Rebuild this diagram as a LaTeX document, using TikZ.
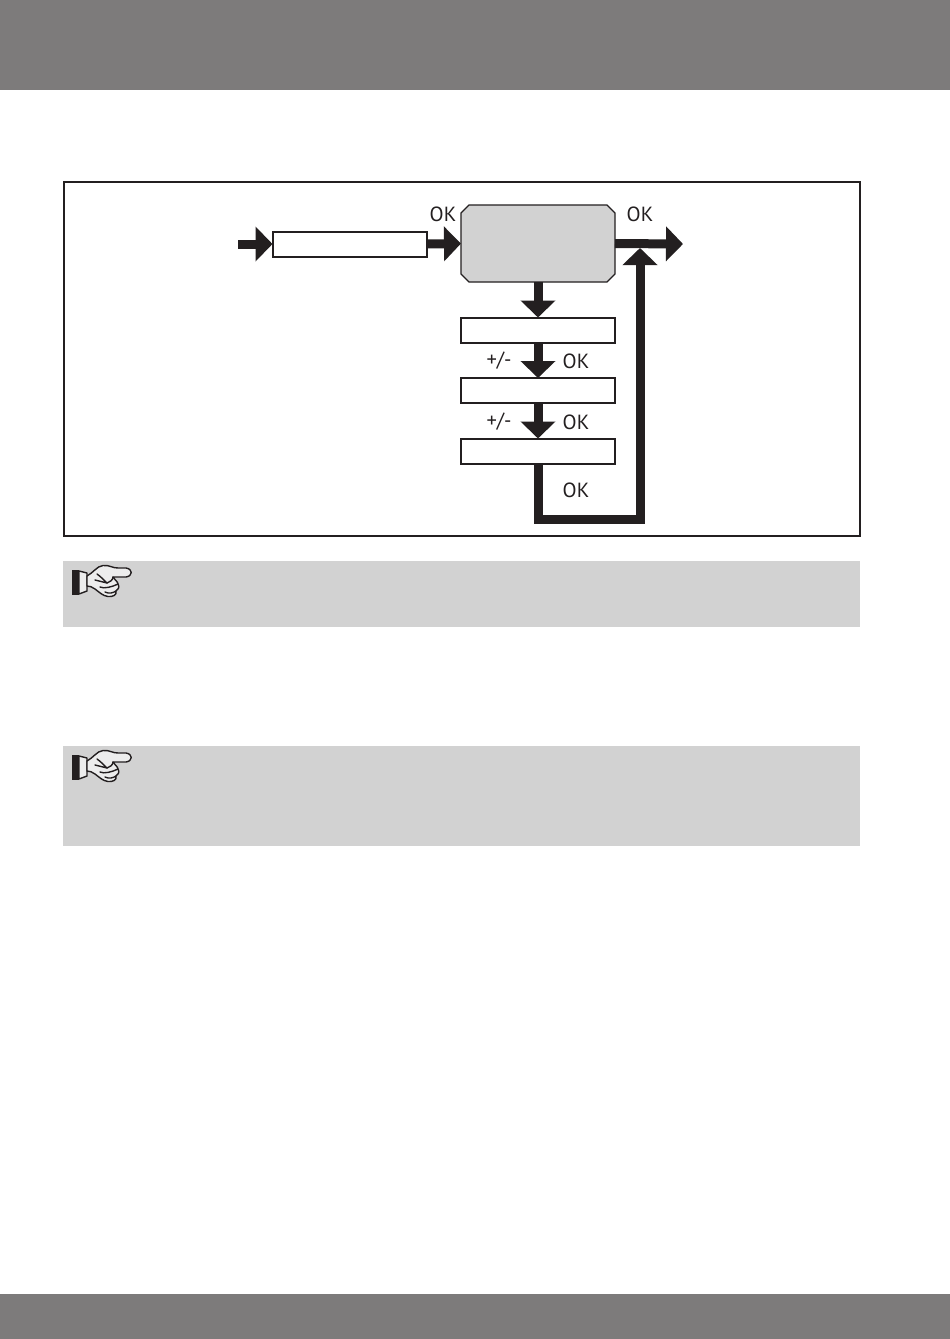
\documentclass[tikz,border=0pt]{standalone}
\usepackage{fontspec}
\setmainfont{PT Sans}
\usetikzlibrary{arrows.meta,calc}
\definecolor{band}{HTML}{7D7B7B}
\definecolor{panel}{HTML}{D2D2D2}
\definecolor{ink}{HTML}{231F20}
\tikzset{
  x=1pt,y=-1pt,
  band/.style={fill=band,draw=none},
  notebox/.style={fill=panel,draw=none},
  frame/.style={draw=ink,line width=2pt,fill=none},
  stepbox/.style={rectangle,draw=ink,fill=white,line width=2pt,minimum width=154pt,minimum height=25pt,inner sep=0pt,outer sep=0pt},
  mainbox/.style={rectangle,draw=none,minimum width=154pt,minimum height=77pt,inner sep=0pt,outer sep=0pt},
  mainshape/.style={draw=ink,fill=panel,line width=1.2pt,line join=miter},
  flow/.style={draw=ink,line width=9pt,line join=miter,-{Triangle[length=17pt,width=34pt]}},
  lbl/.style={inner sep=0pt,text=ink,font=\fontsize{20.5}{24}\selectfont},
  pics/pointer/.style={code={
    \begin{scope}[draw=ink,line width=1.4pt,line join=round,line cap=round,fill=none]
      \fill[ink] (72,570) rectangle (79,595);
      \draw[fill=panel!40!white] (79,571) -- (87,573) -- (87,591) -- (79,594) -- cycle;
      \draw[fill=panel!40!white] (87,576) .. controls (93,573) and (97,566) .. (103,565.5)
        .. controls (110,565) and (112,568) .. (118,568)
        -- (126,568) .. controls (133,569) and (133,576) .. (126,577)
        -- (113,577) .. controls (115,580) and (118,582) .. (118,584)
        .. controls (120,587) and (118,590) .. (116,591)
        .. controls (117,595) and (113,597) .. (108,596.5)
        .. controls (103,596) and (99,592) .. (95,589)
        .. controls (92,587) and (90,586) .. (87,586) -- cycle;
      \draw (97,574) .. controls (100,576) and (104,580) .. (107,583)
        .. controls (103,582) and (99,581) .. (95,580);
      \draw (107,583) .. controls (110,582) and (113,580) .. (113,577);
      \draw (100,587) .. controls (104,589) and (112,587) .. (118,584);
      \draw (105,592) .. controls (109,594) and (113,593) .. (116,591);
    \end{scope}
  }}
}
\begin{document}
\begin{tikzpicture}
\useasboundingbox (0,0) rectangle (950,1339);
\fill[white] (0,0) rectangle (950,1339);
\path[band] (0,0) rectangle (950,90);
\path[band] (0,1294) rectangle (950,1339);
\path[frame] (64,181.5) rectangle (860,536);
\path[notebox] (63,561) rectangle (860,627);
\path[notebox] (63,746) rectangle (860,846);
\pic at (0,0) {pointer};
\pic at (0,185) {pointer};

\node[mainbox] (main) at (538,243.5) {};
\draw[mainshape]
  ($(main.north west)+(8,0)$) -- ($(main.north east)+(-8,0)$)
  -- ($(main.north east)+(0,8)$) -- ($(main.south east)+(0,-8)$)
  -- ($(main.south east)+(-8,0)$) -- ($(main.south west)+(8,0)$)
  -- ($(main.south west)+(0,-8)$) -- ($(main.north west)+(0,8)$) -- cycle;
\node[stepbox] (a) at (349.5,244) {};
\node[stepbox] (b) at (538,330) {};
\node[stepbox] (c) at (538,390.5) {};
\node[stepbox] (d) at (538,451) {};

\coordinate (start) at (238,244);
\coordinate (end) at (683,244);
\coordinate (corner) at (640,519);
\coordinate (join) at (640,248);

\draw[flow] (start) -- (a.west);
\draw[flow] (a.east) -- (main.west);
\draw[flow] (main.east) -- (end);
\draw[flow] (main.south) -- (b.north);
\draw[flow] (b.south) -- (c.north);
\draw[flow] (c.south) -- (d.north);
\draw[flow] (d.south) |- (corner) -- (join);

\node[lbl] (ok1) at (443,214) {OK};
\node[lbl] (ok2) at (640,214) {OK};
\node[lbl] (pm1) at (499,361) {+/-};
\node[lbl] (ok3) at (576,361) {OK};
\node[lbl] (pm2) at (499,422) {+/-};
\node[lbl] (ok4) at (576,422) {OK};
\node[lbl] (ok5) at (576,490) {OK};
\end{tikzpicture}
\end{document}
